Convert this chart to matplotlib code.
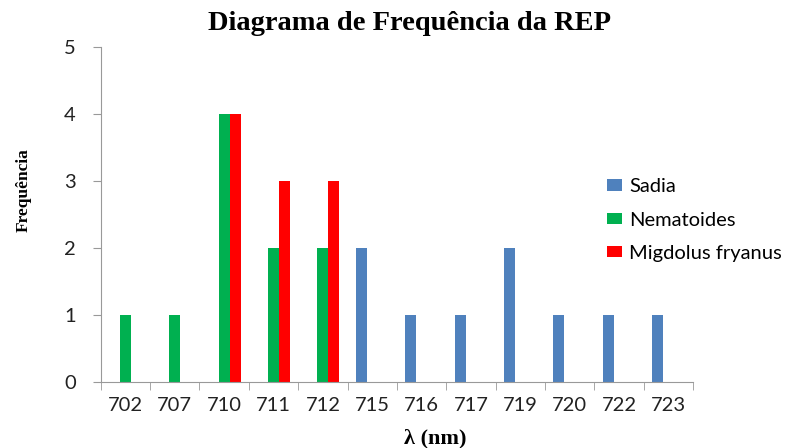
import matplotlib
matplotlib.use("Agg")
import matplotlib.pyplot as plt
import numpy as np

# categorias (comprimento de onda) e frequências por série
categorias = ['702', '707', '710', '711', '712', '715', '716', '717', '719', '720', '722', '723']
sadia = [0, 0, 0, 0, 0, 2, 1, 1, 2, 1, 1, 1]
nematoides = [1, 1, 4, 2, 2, 0, 0, 0, 0, 0, 0, 0]
migdolus = [0, 0, 4, 3, 3, 0, 0, 0, 0, 0, 0, 0]

series = [('Sadia', sadia, '#4F81BD'),
          ('Nematoides', nematoides, '#00B050'),
          ('Migdolus fryanus', migdolus, '#FF0000')]

fig = plt.figure(figsize=(8.06, 4.48), dpi=100)
ax = fig.add_axes([0.125, 0.148, 0.735, 0.747])

x = np.arange(len(categorias))
w = 1 / 4.5  # largura estilo Excel (gap 150%)
for i, (nome, vals, cor) in enumerate(series):
    ax.bar(x + (i - 1) * w, vals, width=w, color=cor, label=nome, linewidth=0)

ax.set_xlim(-0.5, len(categorias) - 0.5)
ax.set_ylim(0, 5)
ax.set_xticks(x)
ax.set_xticklabels(categorias, fontsize=14.5, family='Lato', color='#222222')
ax.set_xticks(np.arange(-0.5, len(categorias)), minor=True)
ax.tick_params(axis='x', which='major', length=0, pad=11)
ax.tick_params(axis='x', which='minor', length=6, color='#999999')
ax.set_yticks(range(6))
ax.tick_params(axis='y', length=6, color='#999999', labelsize=14.5, pad=12)
for lab in ax.get_yticklabels():
    lab.set_family('Lato')
    lab.set_color('#222222')

for s in ['top', 'right']:
    ax.spines[s].set_visible(False)
ax.spines['left'].set_color('#999999')
ax.spines['bottom'].set_color('#999999')

fig.text(0.508, 0.948, 'Diagrama de Frequência da REP', ha='center', va='center',
         family='Liberation Serif', fontweight='bold', fontsize=20.5)
fig.text(0.54, 0.022, 'λ (nm)', ha='center', va='center',
         family='Liberation Serif', fontweight='bold', fontsize=16)
fig.text(0.03, 0.575, 'Frequência', ha='center', va='center', rotation=90,
         family='Liberation Serif', fontweight='bold', fontsize=12.5)

fig.legend(loc='center left', bbox_to_anchor=(607 / 806, 1 - 220 / 448),
           frameon=False, prop={'family': 'Lato', 'size': 14.5},
           handlelength=0.75, handleheight=0.5, labelspacing=0.8,
           handletextpad=0.35, borderpad=0, borderaxespad=0)

fig.savefig('out.png', dpi=100)
